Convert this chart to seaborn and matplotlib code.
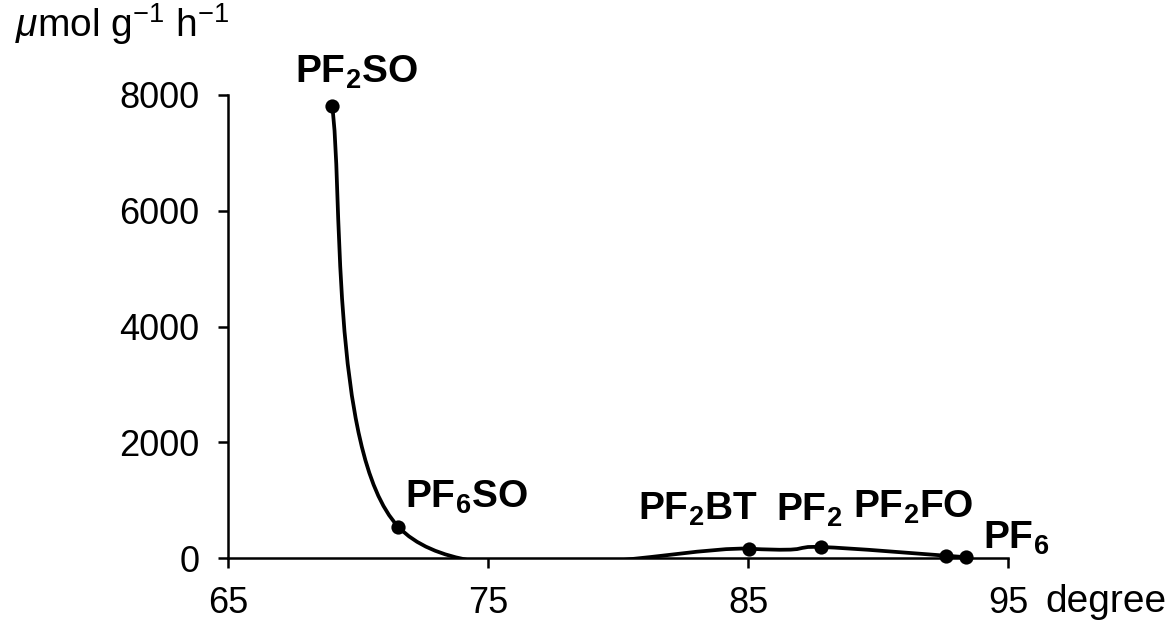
import numpy as np
import pandas as pd
import seaborn as sns
import matplotlib.pyplot as plt
from matplotlib.path import Path
from matplotlib.patches import PathPatch

# values
samples = ["PF2SO", "PF6SO", "PF2BT", "PF2", "PF2FO", "PF6"]
angles = [69.0, 71.55, 85.05, 87.8, 92.6, 93.4]
rates = [7810, 540, 160, 190, 40, 12]
label_texts = [r"PF$_\mathbf{2}$SO", r"PF$_\mathbf{6}$SO", r"PF$_\mathbf{2}$BT",
               r"PF$_\mathbf{2}$", r"PF$_\mathbf{2}$FO", r"PF$_\mathbf{6}$"]
x_ticks = [65, 75, 85, 95]
y_ticks = [0, 2000, 4000, 6000, 8000]

# label offsets from each dot, in points
label_offsets = [(-27, 17), (5, 14), (-80, 21), (-32, 19), (-67, 27), (12, 6)]


def smooth_path(xs, ys):
    # Excel-like smoothed line: cubic bezier segments, catmull-rom control points
    pts = np.column_stack([xs, ys]).astype(float)
    n = len(pts)
    verts = [pts[0]]
    codes = [Path.MOVETO]
    for i in range(n - 1):
        p_prev = pts[max(i - 1, 0)]
        p0 = pts[i]
        p1 = pts[i + 1]
        p_next = pts[min(i + 2, n - 1)]
        c1 = p0 + (p1 - p_prev) / 6.0
        c2 = p1 - (p_next - p0) / 6.0
        verts += [c1, c2, p1]
        codes += [Path.CURVE4] * 3
    return Path(verts, codes)


data = pd.DataFrame({"sample": samples, "angle": angles, "rate": rates})

sns.set_theme(style="ticks")
plt.rcParams["font.family"] = ["Liberation Sans", "DejaVu Sans"]
plt.rcParams["text.color"] = "black"
plt.rcParams["mathtext.fontset"] = "custom"
plt.rcParams["mathtext.rm"] = "Liberation Sans"
plt.rcParams["mathtext.it"] = "Liberation Sans:italic"
plt.rcParams["mathtext.bf"] = "Liberation Sans:bold"

fig = plt.figure(figsize=(11.76, 6.23), dpi=100)
ax = fig.add_axes([228 / 1176, 1 - 558 / 623, 780 / 1176, 463 / 623])

curve = PathPatch(smooth_path(data["angle"], data["rate"]), facecolor="none",
                  edgecolor="black", linewidth=2.7, zorder=2)
ax.add_patch(curve)

sns.scatterplot(data=data, x="angle", y="rate", ax=ax, color="black", s=105,
                edgecolor="black", linewidth=0, zorder=3, clip_on=False, legend=False)

for (x, y, txt, off) in zip(angles, rates, label_texts, label_offsets):
    ax.annotate(txt, xy=(x, y), xytext=off, textcoords="offset points",
                ha="left", va="baseline", fontsize=28, fontweight="bold",
                color="black", annotation_clip=False)

ax.set_xlim(65, 95)
ax.set_ylim(0, 8000)
ax.set_xticks(x_ticks)
ax.set_yticks(y_ticks)
ax.set_xlabel("")
ax.set_ylabel("")
sns.despine(ax=ax)
for side in ["left", "bottom"]:
    ax.spines[side].set_linewidth(1.8)
    ax.spines[side].set_color("black")
ax.tick_params(axis="both", direction="out", length=7.5, width=1.8,
               labelsize=26, pad=13, colors="black")

fig.text(15 / 1176, 1 - 37 / 623, r"$\mu$mol g$^{-1}$ h$^{-1}$", fontsize=28,
         ha="left", va="baseline", color="black")
fig.text(1045 / 1176, 1 - 612 / 623, "degree", fontsize=28, ha="left",
         va="baseline", color="black")

fig.savefig("out.png", dpi=100)
